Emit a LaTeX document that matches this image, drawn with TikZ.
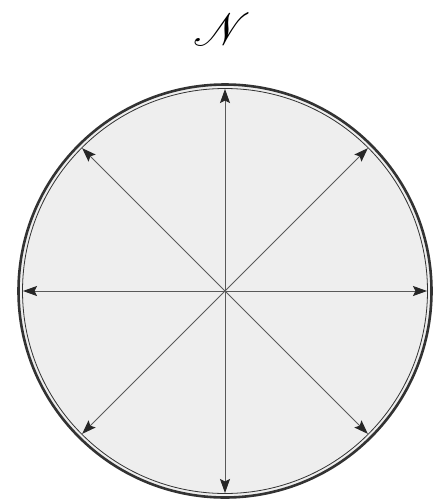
\documentclass[tikz,border=0pt]{standalone}
\usepackage{mathrsfs}
\usetikzlibrary{arrows.meta,calc}
\definecolor{diskfill}{gray}{0.935}
\definecolor{rimcol}{gray}{0.2}
\definecolor{spokecol}{gray}{0.35}
\definecolor{tipcol}{gray}{0.15}
\tikzset{
  spoke/.style={draw=spokecol, line width=0.9pt, -{Stealth[length=14pt,width=10pt,inset=2.5pt,color=tipcol]}},
  rim/.style={draw=rimcol, line width=2.6pt},
  innerrim/.style={draw=rimcol, line width=0.8pt},
  titletext/.style={inner sep=0pt}
}
\begin{document}
\begin{tikzpicture}[x=1pt,y=-1pt]
\useasboundingbox (0,0) rectangle (441,501);
\coordinate (C) at (225,291);
\fill[diskfill] (C) circle (206);
\draw[rim] (C) circle (206.5);
\draw[innerrim] (C) circle (202.5);
\node[titletext] (title) at (222,29) {\scalebox{4.6}{$\mathscr{N}$}};
\foreach \a in {0,45,...,315}{
  \coordinate (t\a) at ($(C)+(\a:202)$);
}
\foreach \a in {0,45,...,315}{
  \draw[spoke] (C) -- (t\a);
}
\end{tikzpicture}
\end{document}
